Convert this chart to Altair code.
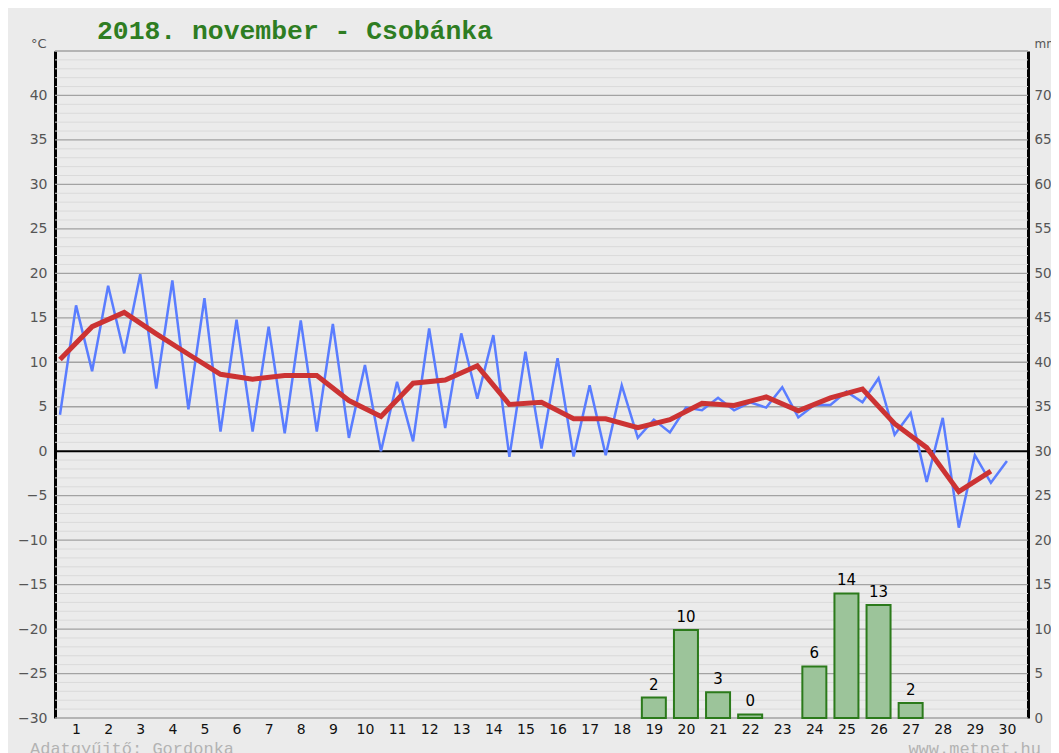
import altair as alt
import pandas as pd

# ---------------- data ----------------
days = list(range(1, 31))
# half-daily temperature series (min/max alternating), °C
temp_series = [
    4.1, 16.4, 9.0, 18.6, 11.0, 19.9, 7.05, 19.2, 4.7, 17.2,
    2.2, 14.8, 2.2, 14.0, 2.0, 14.7, 2.2, 14.3, 1.5, 9.7,
    0.0, 7.8, 1.1, 13.8, 2.6, 13.25, 5.9, 13.05, -0.64, 11.2,
    0.3, 10.45, -0.6, 7.4, -0.45, 7.4, 1.5, 3.55, 2.1, 4.9,
    4.6, 6.0, 4.6, 5.5, 4.9, 7.2, 3.8, 5.2, 5.2, 6.7,
    5.5, 8.2, 1.85, 4.3, -3.45, 3.75, -8.6, -0.45, -3.55, -1.1,
]
# daily mean temperature, °C
daily_mean = [
    10.3, 14.0, 15.6, 13.2, 10.9, 8.65, 8.1, 8.5, 8.5, 5.7,
    3.9, 7.65, 8.0, 9.6, 5.25, 5.5, 3.65, 3.65, 2.65, 3.55,
    5.4, 5.15, 6.1, 4.55, 6.0, 7.0, 3.1, 0.4, -4.55, -2.25,
]
# precipitation, mm
rain_days = [19, 20, 21, 22, 24, 25, 26, 27]
rain_mm = [2.3, 9.9, 2.9, 0.4, 5.8, 14.0, 12.7, 1.7]

temp_ticks = list(range(-30, 41, 5))
mm_ticks = list(range(0, 71, 5))
day_label_pos = [d - 0.5 for d in days]
grid_minor = [v for v in range(-30, 46) if v % 5 != 0]
grid_major = [v for v in range(-30, 46, 5) if v != 0]

title_text = "2018. november - Csobánka"
footer_left = "Adatgyűjtő: Gordonka"
footer_right = "www.metnet.hu"

# ---------------- frames ----------------
df_blue = pd.DataFrame({"x": [k * 0.5 for k in range(len(temp_series))], "t": temp_series})
df_red = pd.DataFrame({"x": [d - 1 for d in days], "t": daily_mean})
df_rain = pd.DataFrame({"x": [d - 0.5 for d in rain_days], "mm": rain_mm})

W, H = 973, 667
xs = alt.Scale(domain=[0, 30], nice=False, zero=False)
ts = alt.Scale(domain=[-30, 45], nice=False, zero=False)
ms = alt.Scale(domain=[0, 75], nice=False, zero=False)

x_axis = alt.Axis(
    values=day_label_pos, labelExpr="format(datum.value + 0.5, 'd')", title=None,
    domain=False, ticks=False, grid=False, labelFont="DejaVu Sans", labelFontSize=14,
    labelColor="#111111", labelPadding=4, labelOverlap=False, labelFlush=False,
)
t_axis = alt.Axis(
    orient="left", values=temp_ticks, title="°C", titleAngle=0, titleX=-9, titleY=-1,
    titleAlign="right", titleBaseline="bottom", titleFont="DejaVu Sans", titleFontSize=13,
    titleFontWeight="normal", titleColor="#555555", labelFont="DejaVu Sans",
    labelFontSize=14, labelColor="#555555", labelPadding=8, ticks=False,
    domainColor="black", domainWidth=3, grid=False,
)
m_axis = alt.Axis(
    orient="right", values=mm_ticks, title="mm", titleAngle=0, titleX=6, titleY=-1,
    titleAlign="left", titleBaseline="bottom", titleFont="DejaVu Sans", titleFontSize=12,
    titleFontWeight="normal", titleColor="#555555", labelFont="DejaVu Sans",
    labelFontSize=13.5, labelColor="#555555", labelPadding=6, ticks=False,
    domainColor="black", domainWidth=3, grid=False,
)

minor = alt.Chart(pd.DataFrame({"v": grid_minor})).mark_rule(
    color="#dadada", strokeWidth=1).encode(y=alt.Y("v:Q", scale=ts, axis=t_axis))
major = alt.Chart(pd.DataFrame({"v": grid_major})).mark_rule(
    color="#a2a2a2", strokeWidth=1.3).encode(y=alt.Y("v:Q", scale=ts, axis=t_axis))
zero = alt.Chart(pd.DataFrame({"v": [0]})).mark_rule(
    color="black", strokeWidth=2).encode(y=alt.Y("v:Q", scale=ts, axis=t_axis))

blue = alt.Chart(df_blue).mark_line(color="#5a7dff", strokeWidth=2.5).encode(
    x=alt.X("x:Q", scale=xs, axis=x_axis), y=alt.Y("t:Q", scale=ts, axis=t_axis))
red = alt.Chart(df_red).mark_line(color="#cc3333", strokeWidth=5).encode(
    x=alt.X("x:Q", scale=xs, axis=x_axis), y=alt.Y("t:Q", scale=ts, axis=t_axis))

title_mark = alt.Chart(pd.DataFrame({"s": [title_text]})).mark_text(
    align="left", baseline="alphabetic", font="Liberation Mono", fontSize=26.4,
    fontWeight="bold", color="#2e7d22").encode(x=alt.value(42), y=alt.value(-12), text="s:N")
foot_l = alt.Chart(pd.DataFrame({"s": [footer_left]})).mark_text(
    align="left", baseline="alphabetic", font="Liberation Mono", fontSize=17,
    color="#b3b3b3").encode(x=alt.value(-25), y=alt.value(H + 36), text="s:N")
foot_r = alt.Chart(pd.DataFrame({"s": [footer_right]})).mark_text(
    align="right", baseline="alphabetic", font="Liberation Mono", fontSize=17,
    color="#b3b3b3").encode(x=alt.value(W + 13), y=alt.value(H + 36), text="s:N")

bars = alt.Chart(df_rain).mark_bar(
    size=24, fill="#9cc49a", stroke="#2b7a1b", strokeWidth=2).encode(
    x=alt.X("x:Q", scale=xs, axis=x_axis), y=alt.Y("mm:Q", scale=ms, axis=m_axis))
bar_labels = alt.Chart(df_rain).mark_text(
    dy=-5, baseline="bottom", font="DejaVu Sans", fontSize=15, color="black").encode(
    x=alt.X("x:Q", scale=xs, axis=x_axis), y=alt.Y("mm:Q", scale=ms, axis=m_axis),
    text=alt.Text("mm:Q", format=".0f"))

temp_layer = alt.layer(minor, major, zero, blue, red, title_mark, foot_l, foot_r)
rain_layer = alt.layer(bars, bar_labels)

chart = alt.layer(temp_layer, rain_layer).resolve_scale(y="independent").properties(
    width=W, height=H,
    background="#ebebeb",
    padding={"left": 47, "top": 43, "right": 23, "bottom": 40},
    autosize=alt.AutoSizeParams(type="none"),
).configure_view(stroke=None)

chart.save("out.html", embed_options={"renderer": "svg", "actions": False})
